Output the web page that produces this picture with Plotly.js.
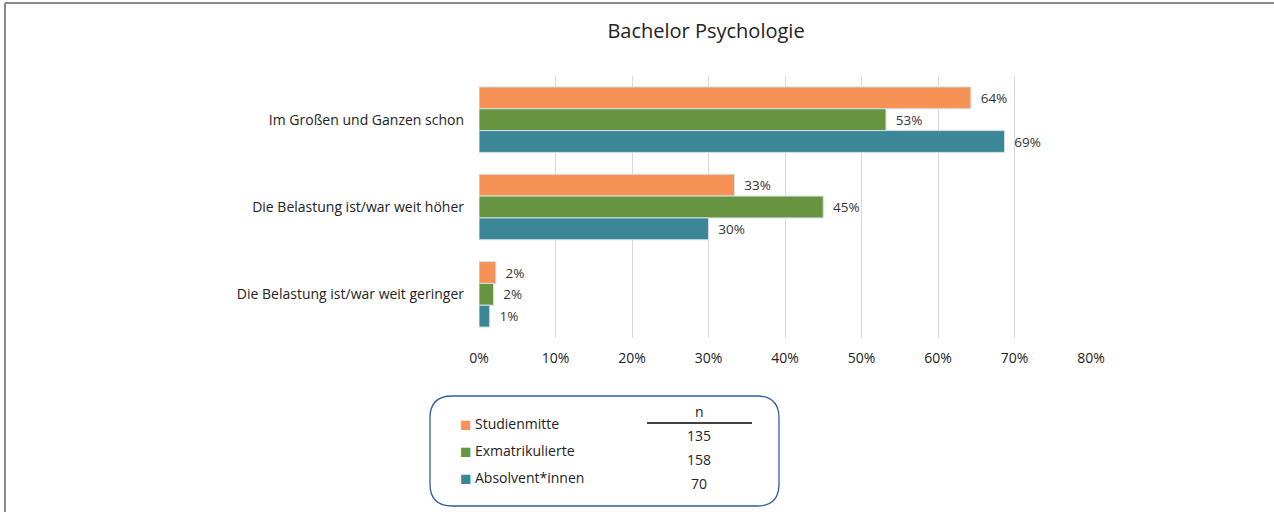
<!DOCTYPE html>
<html>
<head>
<meta charset="utf-8">
<script src="https://cdn.plot.ly/plotly-3.0.1.min.js"></script>
<style>
  body { margin: 0; background: #fff; }
  #chart { width: 1274px; height: 512px; }
</style>
</head>
<body>
<div id="chart"></div>
<script>
var categories = ['Im Großen und Ganzen schon', 'Die Belastung ist/war weit höher', 'Die Belastung ist/war weit geringer'];
var groups = ['Studienmitte', 'Exmatrikulierte', 'Absolvent*innen'];
var nValues = [135, 158, 70];
var studienmitte = [0.643, 0.334, 0.022];
var exmatrikulierte = [0.532, 0.450, 0.019];
var absolventen = [0.687, 0.300, 0.014];
var colors = ['#F79257', '#679440', '#3B8797'];

var W = 1274, H = 512;
var M = {l: 479, r: 183, t: 76, b: 174};
var pw = W - M.l - M.r, ph = H - M.t - M.b;
// pixel -> paper helpers for decoration
function px(x) { return (x - M.l) / pw; }
function py(y) { return (H - M.b - y) / ph; }

var series = [studienmitte, exmatrikulierte, absolventen];
var data = series.map(function (vals, i) {
  return {
    type: 'bar',
    orientation: 'h',
    name: groups[i],
    y: categories,
    x: vals,
    marker: {color: colors[i], line: {color: '#d3e2e6', width: 1}},
    text: vals.map(function (v) { return '\u2002' + Math.round(v * 100) + '%'; }),
    textposition: 'outside',
    textfont: {size: 13.5, color: '#333'},
    cliponaxis: false,
    hoverinfo: 'x+name'
  };
});

// rounded legend frame
function roundRect(x0, y0, x1, y1, r) {
  return 'M' + px(x0 + r) + ',' + py(y0) +
    ' L' + px(x1 - r) + ',' + py(y0) +
    ' Q' + px(x1) + ',' + py(y0) + ' ' + px(x1) + ',' + py(y0 + r) +
    ' L' + px(x1) + ',' + py(y1 - r) +
    ' Q' + px(x1) + ',' + py(y1) + ' ' + px(x1 - r) + ',' + py(y1) +
    ' L' + px(x0 + r) + ',' + py(y1) +
    ' Q' + px(x0) + ',' + py(y1) + ' ' + px(x0) + ',' + py(y1 - r) +
    ' L' + px(x0) + ',' + py(y0 + r) +
    ' Q' + px(x0) + ',' + py(y0) + ' ' + px(x0 + r) + ',' + py(y0) + ' Z';
}

var shapes = [
  {type: 'line', xref: 'paper', yref: 'paper', x0: px(5), x1: px(1280), y0: py(3), y1: py(3), line: {color: '#8c8c8c', width: 2}},
  {type: 'line', xref: 'paper', yref: 'paper', x0: px(5), x1: px(5), y0: py(3), y1: py(515), line: {color: '#8c8c8c', width: 2}},
  {type: 'path', xref: 'paper', yref: 'paper', path: roundRect(430, 396, 779, 506, 22), line: {color: '#2F5E9E', width: 1.3}},
  {type: 'line', xref: 'paper', yref: 'paper', x0: px(647), x1: px(752), y0: py(423), y1: py(423), line: {color: '#000', width: 1.5}}
];

function note(x, y, text, opts) {
  var a = {xref: 'paper', yref: 'paper', x: px(x), y: py(y), text: text, showarrow: false,
    xanchor: 'center', yanchor: 'middle', font: {size: 14, color: '#222'}};
  for (var k in opts) a[k] = opts[k];
  return a;
}

var annotations = [note(699, 411, 'n')];
groups.forEach(function (g, i) {
  var yy = 423 + i * 27;
  annotations.push(note(465, yy + 1, '■', {font: {size: 19, color: colors[i]}}));
  annotations.push(note(473, yy, g, {xanchor: 'left'}));
  annotations.push(note(699, 435 + i * 24, String(nValues[i])));
});

var layout = {
  width: W, height: H,
  margin: M,
  font: {family: '"Open Sans", "Noto Sans", sans-serif', color: '#222'},
  title: {text: 'Bachelor Psychologie', font: {size: 20, color: '#222'}, x: 706 / W, xanchor: 'center', xref: 'container', y: 1 - 31 / H, yref: 'container', yanchor: 'middle'},
  barmode: 'group',
  bargap: 0.25,
  bargroupgap: 0,
  showlegend: false,
  xaxis: {range: [0, 0.8], dtick: 0.1, tickformat: '.0%', showgrid: true, gridcolor: '#d9d9d9', gridwidth: 1, zeroline: false, showline: false, tickfont: {size: 14}, ticklabelstandoff: 10},
  yaxis: {autorange: 'reversed', showgrid: false, zeroline: false, tickfont: {size: 14}, ticklabelstandoff: 14},
  shapes: shapes,
  annotations: annotations,
  plot_bgcolor: '#fff', paper_bgcolor: '#fff'
};

Plotly.newPlot('chart', data, layout, {displayModeBar: false});
</script>
</body>
</html>
